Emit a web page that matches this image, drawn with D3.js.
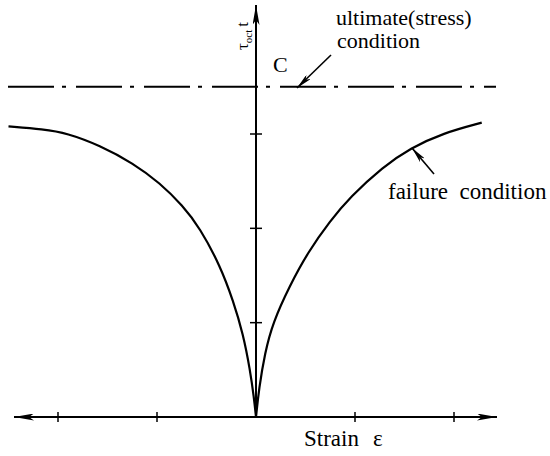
<!DOCTYPE html>
<html>
<head>
<meta charset="utf-8">
<script src="https://cdn.jsdelivr.net/npm/d3@7"></script>
<style>
  html, body { margin: 0; padding: 0; background: #fff; }
  svg { display: block; }
  text { font-family: "Liberation Serif", "DejaVu Serif", serif; fill: #000; }
</style>
</head>
<body>
<svg id="chart" width="550" height="456"></svg>
<script>
// Failure condition curve, left branch (strain < 0) and right branch (strain > 0)
const leftStrain  = [-2.5, -2.15, -1.91, -1.58, -1.24, -0.97, -0.74, -0.57, -0.36, -0.23, -0.13, -0.06, -0.02, 0];
const leftStress  = [3.08, 3.05, 3.01, 2.88, 2.69, 2.48, 2.24, 2.01, 1.60, 1.23, 0.88, 0.50, 0.20, 0];
const rightStrain = [0, 0.03, 0.09, 0.17, 0.34, 0.52, 0.75, 0.95, 1.28, 1.56, 1.89, 2.28];
const rightStress = [0, 0.30, 0.68, 1.0, 1.39, 1.74, 2.08, 2.33, 2.65, 2.85, 3.01, 3.12];
// Ultimate (stress) condition level
const ultimateStress = 3.5;
// Tick positions along each axis
const strainTicks = [-2, -1, 1, 2];
const stressTicks = [1, 2, 3];

const svg = d3.select("#chart");
const x = d3.scaleLinear().domain([-2, 2]).range([58, 454]);
const y = d3.scaleLinear().domain([0, 3]).range([417, 134]);

// arrowhead markers
const defs = svg.append("defs");
function marker(id, w, h) {
  defs.append("marker")
    .attr("id", id)
    .attr("viewBox", `0 0 ${w} ${h}`)
    .attr("refX", w).attr("refY", h / 2)
    .attr("markerWidth", w).attr("markerHeight", h)
    .attr("markerUnits", "userSpaceOnUse")
    .attr("orient", "auto-start-reverse")
    .append("path")
    .attr("d", `M0,0L${w},${h / 2}L0,${h}L${w * 0.25},${h / 2}Z`)
    .attr("fill", "#000");
}
marker("axisArrow", 20, 7);
marker("noteArrow", 16, 6);

// x axis line with arrows at both ends
svg.append("line")
  .attr("x1", 14).attr("x2", 497)
  .attr("y1", y(0)).attr("y2", y(0))
  .attr("stroke", "#000").attr("stroke-width", 2)
  .attr("marker-start", "url(#axisArrow)")
  .attr("marker-end", "url(#axisArrow)");

// y axis line with arrow at the top
svg.append("line")
  .attr("x1", x(0)).attr("x2", x(0))
  .attr("y1", y(0)).attr("y2", 5)
  .attr("stroke", "#000").attr("stroke-width", 2)
  .attr("marker-end", "url(#axisArrow)");

// cross ticks
svg.selectAll(".xt").data(strainTicks).join("line")
  .attr("x1", d => x(d)).attr("x2", d => x(d))
  .attr("y1", y(0) - 5).attr("y2", y(0) + 5)
  .attr("stroke", "#000").attr("stroke-width", 1.5);
svg.selectAll(".yt").data(stressTicks).join("line")
  .attr("x1", x(0) - 6).attr("x2", x(0) + 6)
  .attr("y1", d => y(d)).attr("y2", d => y(d))
  .attr("stroke", "#000").attr("stroke-width", 1.5);

// ultimate condition, dash-dot line
svg.append("line")
  .attr("x1", 8).attr("x2", 496)
  .attr("y1", y(ultimateStress)).attr("y2", y(ultimateStress))
  .attr("stroke", "#000").attr("stroke-width", 2)
  .attr("stroke-dasharray", "46 8 4 10");

// failure curve, one smooth branch on each side of the cusp
const line = d3.line().x(d => x(d[0])).y(d => y(d[1])).curve(d3.curveBasis);
const leftData = d3.zip(leftStrain, leftStress);
const rightData = d3.zip(rightStrain, rightStress);
[leftData, rightData].forEach(dat => {
  svg.append("path")
    .attr("d", line(dat))
    .attr("fill", "none")
    .attr("stroke", "#000")
    .attr("stroke-width", 2.2)
    .attr("stroke-linejoin", "round");
});

// annotation pointers
svg.append("line")
  .attr("x1", 331).attr("y1", 55).attr("x2", 297).attr("y2", 88)
  .attr("stroke", "#000").attr("stroke-width", 1.6)
  .attr("marker-end", "url(#noteArrow)");
svg.append("line")
  .attr("x1", 434).attr("y1", 174).attr("x2", 412).attr("y2", 148)
  .attr("stroke", "#000").attr("stroke-width", 1.6)
  .attr("marker-end", "url(#noteArrow)");

// texts
svg.append("text").attr("x", 336).attr("y", 25)
  .attr("font-size", 22).text("ultimate(stress)");
svg.append("text").attr("x", 337).attr("y", 48)
  .attr("font-size", 22).text("condition");
svg.append("text").attr("x", 273).attr("y", 72)
  .attr("font-size", 22).text("C");
svg.append("text").attr("x", 388).attr("y", 199)
  .attr("font-size", 23).attr("xml:space", "preserve").text("failure  condition");
const xl = svg.append("text").attr("x", 304).attr("y", 446).attr("font-size", 23);
xl.append("tspan").text("Strain");
xl.append("tspan").attr("dx", 14).text("ε");

// y-axis label: tau_oct t, rotated
const yl = svg.append("text")
  .attr("transform", "translate(248,50) rotate(-90)")
  .attr("font-size", 17);
yl.append("tspan").text("τ");
yl.append("tspan").attr("font-size", 11).attr("dy", 4).text("oct");
yl.append("tspan").attr("dy", -4).attr("dx", 3).text("t");
</script>
</body>
</html>
